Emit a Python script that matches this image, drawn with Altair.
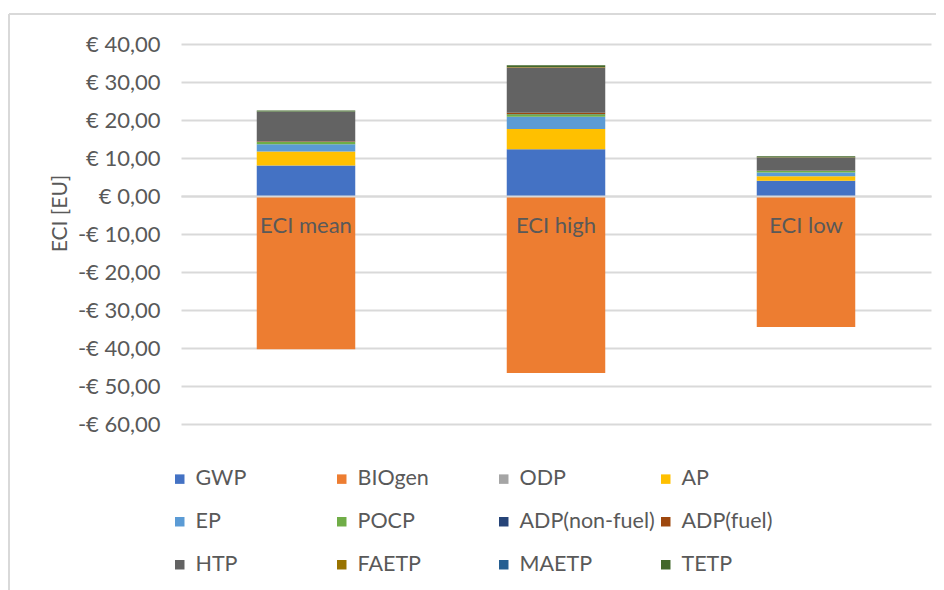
import altair as alt
import pandas as pd

categories = ["ECI mean", "ECI high", "ECI low"]
series = ["GWP", "BIOgen", "ODP", "AP", "EP", "POCP", "ADP(non-fuel)", "ADP(fuel)",
          "HTP", "FAETP", "MAETP", "TETP"]
colors = ["#4472C4", "#ED7D31", "#A5A5A5", "#FFC000", "#5B9BD5", "#70AD47", "#264478",
          "#9E480E", "#636363", "#997300", "#255E91", "#43682B"]

# values per series: [ECI mean, ECI high, ECI low]
gwp = [8.0, 12.3, 4.0]
biogen = [-40.3, -46.6, -34.5]
odp = [0.02, 0.03, 0.01]
ap = [3.7, 5.3, 1.2]
ep = [1.9, 3.2, 1.0]
pocp = [0.6, 0.7, 0.4]
adp_nonfuel = [0.05, 0.05, 0.03]
adp_fuel = [0.15, 0.35, 0.1]
htp = [7.7, 11.9, 3.4]
faetp = [0.05, 0.1, 0.03]
maetp = [0.05, 0.05, 0.02]
tetp = [0.3, 0.4, 0.3]

y_ticks = [-60, -50, -40, -30, -20, -10, 0, 10, 20, 30, 40]

all_values = [gwp, biogen, odp, ap, ep, pocp, adp_nonfuel, adp_fuel, htp, faetp, maetp, tetp]
rows = []
for i, (s, vals) in enumerate(zip(series, all_values)):
    for c, v in zip(categories, vals):
        rows.append({"category": c, "series": s, "order": i, "value": v})
df = pd.DataFrame(rows)

FONT = "Lato"
GREY = "#595959"
GRID = "#D9D9D9"
FS = 22

bars = alt.Chart(df).mark_bar().encode(
    x=alt.X(
        "category:N",
        sort=categories,
        scale=alt.Scale(paddingInner=0.606, paddingOuter=0.303),
        axis=alt.Axis(
            title=None, orient="bottom", offset=-228, domain=True, domainColor=GRID,
            domainWidth=2, ticks=False, labelAngle=0, labelPadding=19, labelFontSize=FS,
            labelColor=GREY, labelFont=FONT, zindex=1,
        ),
    ),
    y=alt.Y(
        "value:Q",
        stack="zero",
        scale=alt.Scale(domain=[-60, 40], nice=False, zero=False),
        axis=alt.Axis(
            values=y_ticks,
            labelExpr="(datum.value < 0 ? '-€ ' : '€ ') + replace(format(abs(datum.value), '.2f'), '.', ',')",
            title="ECI [EU]", titleFont=FONT, titleFontSize=21, titleFontWeight="normal",
            titleColor=GREY, titleX=-121, titleY=169, titleAngle=270, titleBaseline="middle",
            titleAlign="center",
            grid=True, gridColor=GRID, gridWidth=2, domain=False, ticks=False,
            labelPadding=21, labelFontSize=FS, labelColor=GREY, labelFont=FONT,
        ),
    ),
    color=alt.Color(
        "series:N",
        sort=series,
        scale=alt.Scale(domain=series, range=colors),
        legend=alt.Legend(
            title=None, orient="none", legendX=-12, legendY=424, columns=4,
            direction="horizontal",
            symbolType="square", symbolSize=90, symbolStrokeWidth=0,
            labelFontSize=21.5, labelColor=GREY, labelFont=FONT, labelOffset=5,
            gridAlign="all", columnPadding=-5, rowPadding=20, labelLimit=300,
        ),
    ),
    order=alt.Order("order:Q"),
)

border_df = pd.DataFrame({"k": [0]})
left_border = alt.Chart(border_df).mark_rule(color=GRID, strokeWidth=2).encode(
    x=alt.value(-172), y=alt.value(-30), y2=alt.value(560)
)
top_border = alt.Chart(border_df).mark_rule(color=GRID, strokeWidth=2).encode(
    x=alt.value(-172), x2=alt.value(770), y=alt.value(-30)
)

chart = alt.layer(bars, left_border, top_border).properties(
    width=750,
    height=380,
    padding={"left": 173, "top": 36, "right": 5, "bottom": 166},
    autosize=alt.AutoSizeParams(type="none"),
).configure_view(stroke=None)

chart.save("out.html", embed_options={"renderer": "svg", "actions": False})
